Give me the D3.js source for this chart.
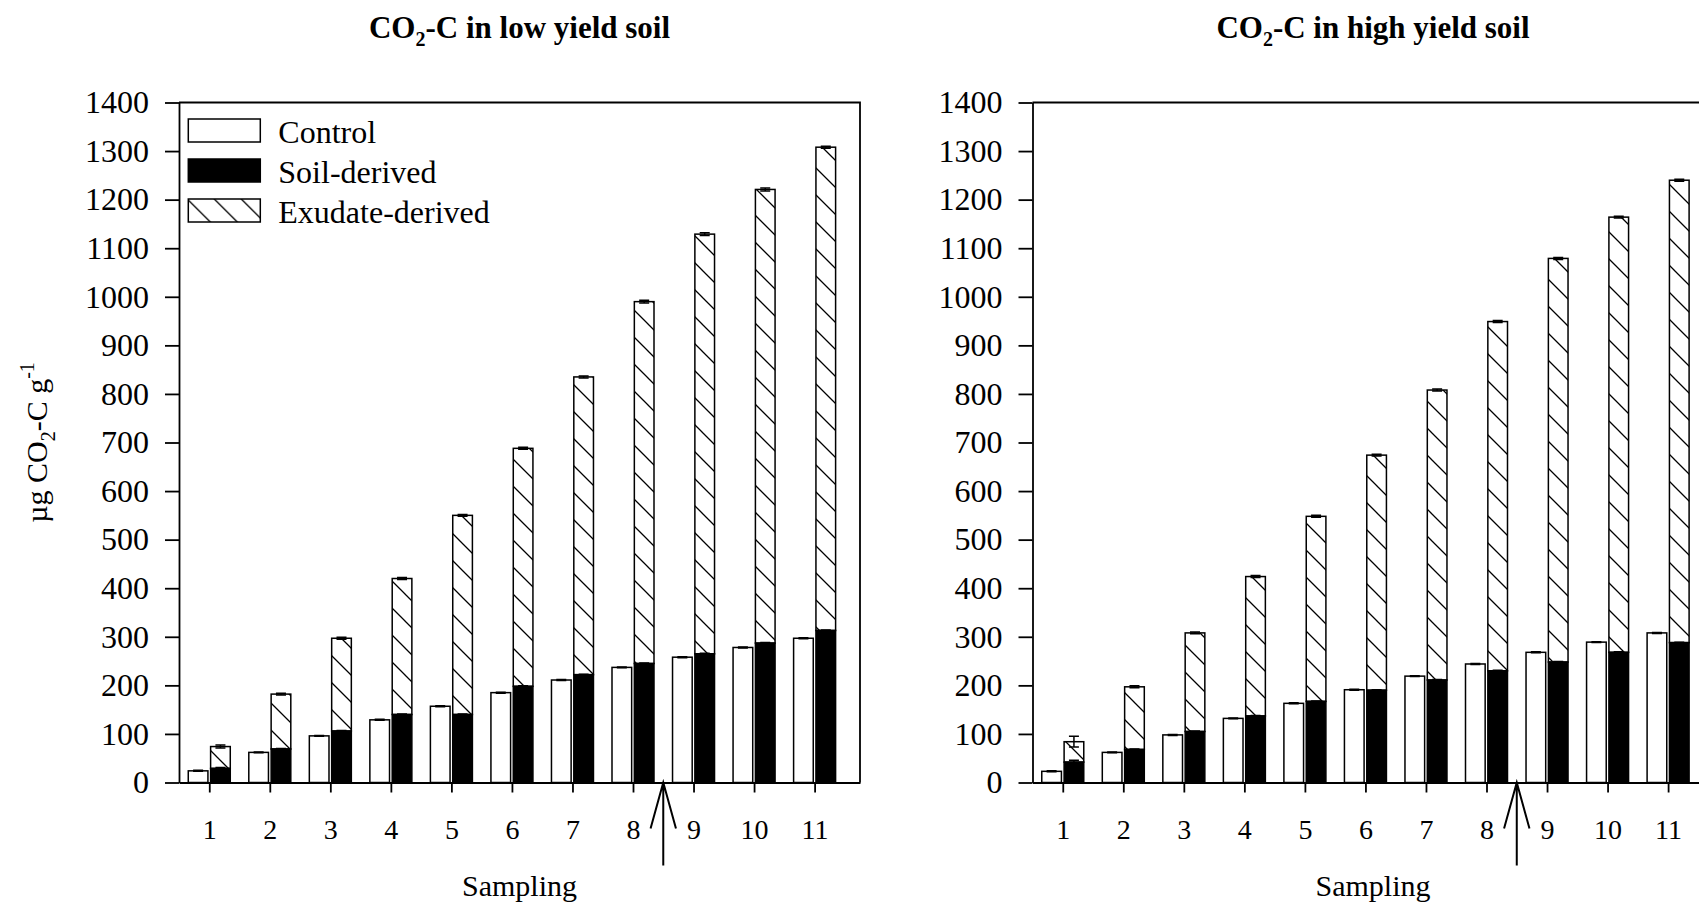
<!DOCTYPE html>
<html>
<head>
<meta charset="utf-8">
<script src="https://cdn.jsdelivr.net/npm/d3@7/dist/d3.min.js"></script>
<style>
    body { margin: 0; background: #fff; }
    text { font-family: "Liberation Serif", "Times New Roman", serif; fill: #000; }
</style>
</head>
<body>
<div id="chart"></div>
<script>
const WIDTH = 1699;
const HEIGHT = 906;
const PLOT_W = 681;
const PLOT_TOP = 102.5;
const PLOT_BOTTOM = 782.5;
const ARROW_AT = 8.5;

const SAMPLINGS = [1, 2, 3, 4, 5, 6, 7, 8, 9, 10, 11];
const Y_TICKS = [0, 100, 200, 300, 400, 500, 600, 700, 800, 900, 1000, 1100, 1200, 1300, 1400];
const SERIES = ["Control", "Soil-derived", "Exudate-derived"];

// low yield soil
const LOW_CONTROL  = [24, 62, 96, 129, 157, 185, 211, 237, 258, 278, 297];
const LOW_SOIL     = [29, 69, 106, 140, 140, 198, 222, 245, 265, 287, 313];
const LOW_EXUDATE  = [45, 113, 191, 280, 410, 490, 613, 745, 864, 934, 995];
const LOW_CONTROL_ERR = [1, 1, 1, 1, 1, 1, 1, 1, 1, 1, 1];
const LOW_SOIL_ERR    = [2, 1, 1, 1, 1, 1, 1, 1, 1, 1, 1];
const LOW_EXUDATE_ERR = [3, 2, 2, 2, 2, 2, 2, 3, 3, 3, 2];

// high yield soil
const HIGH_CONTROL  = [23, 62, 98, 132, 163, 191, 219, 244, 268, 289, 308];
const HIGH_SOIL     = [42, 68, 105, 137, 167, 190, 211, 230, 248, 268, 288];
const HIGH_EXUDATE  = [42, 129, 203, 287, 381, 484, 597, 719, 831, 896, 952];
const HIGH_CONTROL_ERR = [1, 1, 1, 1, 1, 1, 1, 1, 1, 1, 1];
const HIGH_SOIL_ERR    = [4, 1, 1, 1, 1, 1, 1, 1, 1, 1, 1];
const HIGH_EXUDATE_ERR = [11, 2, 2, 2, 2, 2, 2, 2, 2, 2, 2];

const panels = [
    { title: "-C in low yield soil", left: 179, legend: true,
      control: LOW_CONTROL, soil: LOW_SOIL, exudate: LOW_EXUDATE,
      controlErr: LOW_CONTROL_ERR, soilErr: LOW_SOIL_ERR, exudateErr: LOW_EXUDATE_ERR },
    { title: "-C in high yield soil", left: 1032.5, legend: false,
      control: HIGH_CONTROL, soil: HIGH_SOIL, exudate: HIGH_EXUDATE,
      controlErr: HIGH_CONTROL_ERR, soilErr: HIGH_SOIL_ERR, exudateErr: HIGH_EXUDATE_ERR }
];

const svg = d3.select("#chart")
    .append("svg")
    .attr("width", WIDTH)
    .attr("height", HEIGHT);

// diagonal hatch for the exudate part
svg.append("defs").append("pattern")
    .attr("id", "hatch")
    .attr("patternUnits", "userSpaceOnUse")
    .attr("width", 27)
    .attr("height", 27)
    .append("path")
    .attr("d", "M0,0 L27,27 M-4,23 L4,31 M23,-4 L31,4")
    .attr("stroke", "#000")
    .attr("stroke-width", 1.3);

const y = d3.scaleLinear().domain([0, 1400]).range([PLOT_BOTTOM, PLOT_TOP]);

// position of the two bars inside a sampling group, in px
const sub = d3.scaleBand().domain(["control", "treated"]).range([-21, 21]).paddingInner(0.12);

panels.forEach(drawPanel);

// y label shared by both panels
const ylab = svg.append("text")
    .attr("transform", "translate(47," + ((PLOT_TOP + PLOT_BOTTOM) / 2) + ") rotate(-90)")
    .attr("text-anchor", "middle")
    .attr("font-size", 30);
ylab.append("tspan").text("µg CO");
ylab.append("tspan").attr("dy", 8).attr("font-size", 20).text("2");
ylab.append("tspan").attr("dy", -8).text("-C g");
ylab.append("tspan").attr("dy", -13).attr("font-size", 20).text("-1");

function drawPanel(p) {
    const x = d3.scaleLinear().domain([0.5, 11.75]).range([p.left, p.left + PLOT_W]);
    const g = svg.append("g");
    const cx = x.range();

    const rows = SAMPLINGS.map(function (s, i) {
        return { s: s, control: p.control[i], soil: p.soil[i], exudate: p.exudate[i],
                 controlErr: p.controlErr[i], soilErr: p.soilErr[i], exudateErr: p.exudateErr[i] };
    });

    // title
    const t = g.append("text")
        .attr("x", (cx[0] + cx[1]) / 2)
        .attr("y", 38)
        .attr("text-anchor", "middle")
        .attr("font-size", 31)
        .attr("font-weight", "bold");
    t.append("tspan").text("CO");
    t.append("tspan").attr("dy", 8).attr("font-size", 20).text("2");
    t.append("tspan").attr("dy", -8).text(p.title);

    const bw = sub.bandwidth();

    // control
    g.selectAll(".ctl").data(rows).enter().append("rect")
        .attr("x", d => x(d.s) + sub("control"))
        .attr("y", d => y(d.control))
        .attr("width", bw)
        .attr("height", d => y(0) - y(d.control))
        .attr("fill", "#fff").attr("stroke", "#000").attr("stroke-width", 1.5);

    // exudate stacked on soil
    g.selectAll(".exu").data(rows).enter().append("rect")
        .attr("x", d => x(d.s) + sub("treated"))
        .attr("y", d => y(d.soil + d.exudate))
        .attr("width", bw)
        .attr("height", d => y(d.soil) - y(d.soil + d.exudate))
        .attr("fill", "url(#hatch)").attr("stroke", "#000").attr("stroke-width", 1.5);

    g.selectAll(".soil").data(rows).enter().append("rect")
        .attr("x", d => x(d.s) + sub("treated"))
        .attr("y", d => y(d.soil))
        .attr("width", bw)
        .attr("height", d => y(0) - y(d.soil))
        .attr("fill", "#000").attr("stroke", "#000").attr("stroke-width", 1.5);

    // error bars
    const errs = [];
    rows.forEach(function (d) {
        errs.push({ cx: x(d.s) + sub("control") + bw / 2, v: d.control, e: d.controlErr });
        errs.push({ cx: x(d.s) + sub("treated") + bw / 2, v: d.soil, e: d.soilErr });
        errs.push({ cx: x(d.s) + sub("treated") + bw / 2, v: d.soil + d.exudate, e: d.exudateErr });
    });
    g.selectAll(".err").data(errs).enter().append("path")
        .attr("d", d => "M" + d.cx + "," + y(d.v - d.e) + "V" + y(d.v + d.e)
            + "M" + (d.cx - 5) + "," + y(d.v + d.e) + "h10"
            + "M" + (d.cx - 5) + "," + y(d.v - d.e) + "h10")
        .attr("fill", "none").attr("stroke", "#000").attr("stroke-width", 1.5);

    // axes
    const yAxis = g.append("g")
        .attr("transform", "translate(" + cx[0] + ",0)")
        .call(d3.axisLeft(y).tickValues(Y_TICKS).tickFormat(d3.format("d"))
            .tickSize(14).tickPadding(16).tickSizeOuter(0));
    const xAxis = g.append("g")
        .attr("transform", "translate(0," + PLOT_BOTTOM + ")")
        .call(d3.axisBottom(x).tickValues(SAMPLINGS).tickFormat(d3.format("d"))
            .tickSize(10).tickSizeOuter(0));

    [yAxis, xAxis].forEach(function (a) {
        a.attr("font-family", null).attr("font-size", null);
        a.selectAll("path, line").attr("stroke", "#000").attr("stroke-width", 1.8);
    });
    yAxis.selectAll("text").attr("font-size", 32).attr("fill", "#000");
    xAxis.selectAll("text").attr("font-size", 28).attr("fill", "#000").attr("y", 56).attr("dy", null);

    // frame top and right
    g.append("path")
        .attr("d", "M" + cx[0] + "," + PLOT_TOP + "H" + cx[1] + "V" + PLOT_BOTTOM)
        .attr("fill", "none").attr("stroke", "#000").attr("stroke-width", 1.8);

    g.append("text")
        .attr("x", (cx[0] + cx[1]) / 2)
        .attr("y", 896)
        .attr("text-anchor", "middle")
        .attr("font-size", 30)
        .text("Sampling");

    // arrow marking the change between sampling 8 and 9
    const ax = x(ARROW_AT);
    g.append("path")
        .attr("d", "M" + ax + "," + (PLOT_BOTTOM + 83) + "V" + PLOT_BOTTOM
            + "M" + (ax - 12.7) + "," + (PLOT_BOTTOM + 46) + "L" + ax + "," + PLOT_BOTTOM
            + "L" + (ax + 12.7) + "," + (PLOT_BOTTOM + 46))
        .attr("fill", "none").attr("stroke", "#000").attr("stroke-width", 2);

    if (p.legend) {
        const lg = g.append("g").attr("transform", "translate(" + (cx[0] + 9.3) + "," + (PLOT_TOP + 16.5) + ")");
        const fills = ["#fff", "#000", "url(#hatch)"];
        SERIES.forEach(function (name, i) {
            lg.append("rect")
                .attr("x", 0).attr("y", i * 40)
                .attr("width", 72).attr("height", 23)
                .attr("fill", fills[i]).attr("stroke", "#000").attr("stroke-width", 1.5);
            lg.append("text")
                .attr("x", 90).attr("y", i * 40 + 23.5)
                .attr("font-size", 32)
                .text(name);
        });
    }
}
</script>
</body>
</html>
